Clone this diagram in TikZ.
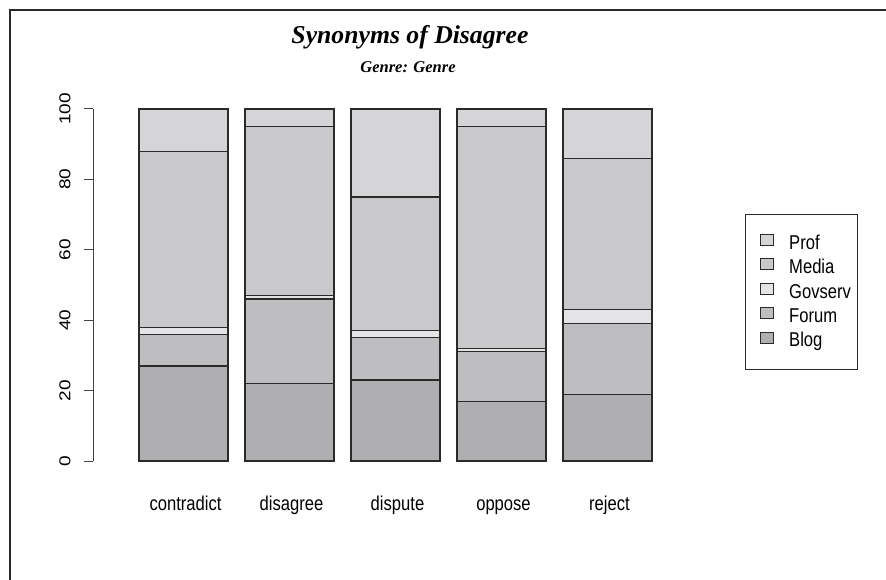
\documentclass[tikz,border=0pt]{standalone}
\usepackage{fontspec}
\setmainfont{Liberation Sans}
\newfontfamily\titlefont{Liberation Serif}
\definecolor{cProf}{HTML}{D5D5D7}
\definecolor{cMedia}{HTML}{C9C9CB}
\definecolor{cGov}{HTML}{E4E4E6}
\definecolor{cForum}{HTML}{BEBEC0}
\definecolor{cBlog}{HTML}{AFAFB1}
\definecolor{lineC}{HTML}{2A2A2A}
\tikzset{
  seg/.style={draw=lineC, line width=1.2pt},
  lbl/.style={inner sep=0pt, anchor=base, font=\fontsize{20}{24}\selectfont},
  tick/.style={inner sep=0pt, rotate=90, font=\fontsize{19}{22}\selectfont},
  legsq/.style={draw=lineC, line width=1pt, minimum width=13pt, minimum height=11pt, inner sep=0pt},
  legtxt/.style={inner sep=0pt, anchor=base west, font=\fontsize{20}{24}\selectfont},
}
\newcommand{\hs}[1]{\scalebox{0.83}[1]{#1}}
\begin{document}
\begin{tikzpicture}[x=1pt,y=-1pt]
\useasboundingbox (0,0) rectangle (886,580);
\fill[white] (0,0) rectangle (886,580);
% frame
\draw[line width=2.6pt, lineC] (10,581) -- (10,10) -- (887,10);
% title
\node[inner sep=0pt, anchor=base] (title) at (410,43.5)
  {\titlefont\bfseries\itshape\fontsize{25.7}{30}\selectfont Synonyms of Disagree};
\node[inner sep=0pt, anchor=base] (subtitle) at (408,73)
  {\titlefont\bfseries\itshape\fontsize{16.5}{20}\selectfont Genre: Genre};
% axis
\draw[line width=1pt, black!75] (93,109) -- (93,461);
\foreach \v in {0,20,40,60,80,100} {
  \draw[line width=1pt, black!75] (84,{461-3.52*\v}) -- (93,{461-3.52*\v});
  \node[tick] (t\v) at (65,{461-3.52*\v}) {\scalebox{1}[0.83]{\v}};
}
% bars
\foreach \x/\name/\b/\f/\g/\m in {139/contradict/27/36/38/88, 245/disagree/22/46/47/95, 351/dispute/23/35/37/75, 457/oppose/17/31/32/95, 563/reject/19/39/43/86} {
  \draw[seg, fill=cBlog]  (\x,461) rectangle (\x+89,{461-3.52*\b});
  \draw[seg, fill=cForum] (\x,{461-3.52*\b}) rectangle (\x+89,{461-3.52*\f});
  \draw[seg, fill=cGov]   (\x,{461-3.52*\f}) rectangle (\x+89,{461-3.52*\g});
  \draw[seg, fill=cMedia] (\x,{461-3.52*\g}) rectangle (\x+89,{461-3.52*\m});
  \draw[seg, fill=cProf]  (\x,{461-3.52*\m}) rectangle (\x+89,109);
  \node[lbl] (lab-\name) at (\x+46.5,510.5) {\hs{\name}};
}
% legend
\node[draw=lineC, line width=1pt, minimum width=112pt, minimum height=154pt, inner sep=0pt] (legend) at (801.5,292) {};
\foreach \i/\t/\c in {0/Prof/cProf, 1/Media/cMedia, 2/Govserv/cGov, 3/Forum/cForum, 4/Blog/cBlog} {
  \node[legsq, fill=\c] (sq-\t) at (767,{240+24.4*\i}) {};
  \node[legtxt] (lt-\t) at (789,{249.3+24.4*\i}) {\hs{\t}};
}
\end{tikzpicture}
\end{document}
